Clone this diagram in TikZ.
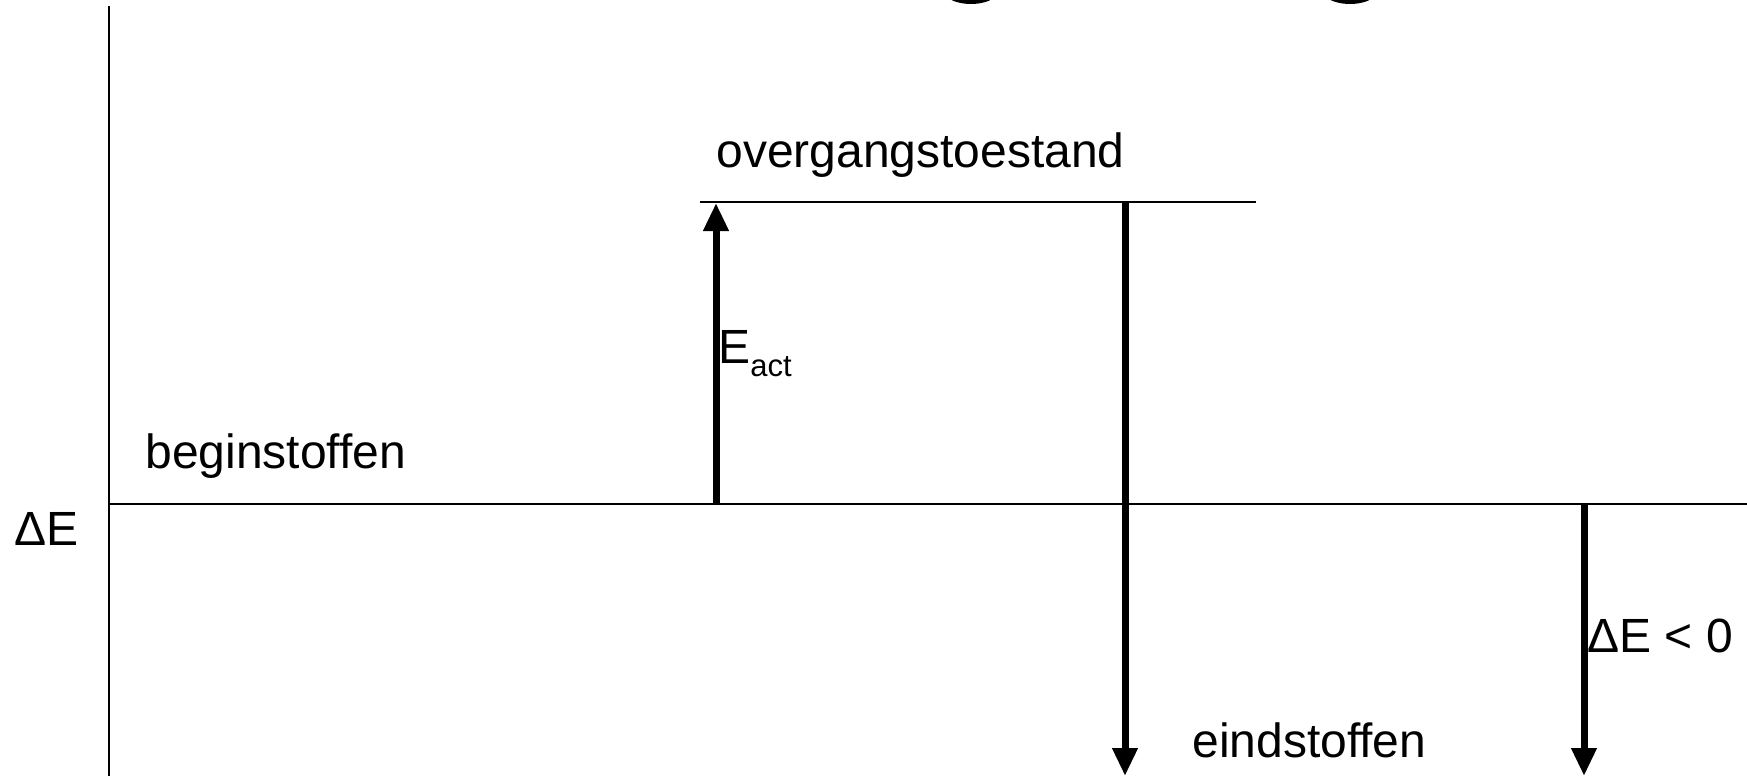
\documentclass[tikz,border=0pt]{standalone}
\usepackage{fontspec}
\setmainfont{Liberation Sans}
\usetikzlibrary{arrows.meta}
\tikzset{
  thinline/.style={line width=1.25pt},
  bigarrow/.style={line width=3.5pt,-{Triangle[width=12pt,length=14pt]}},
  lbl/.style={anchor=base west,inner sep=0pt,font=\fontsize{24}{28}\selectfont},
}
\begin{document}
\begin{tikzpicture}[x=0.5pt,y=-0.5pt]
\useasboundingbox (0,0) rectangle (1747,776);
\fill[white] (0,0) rectangle (1747,776);
% cut-off title fragments
\begin{scope}
\clip (0,0) rectangle (1747,776);
\fill (971,-15) ellipse [x radius=16pt,y radius=9.5pt];
\fill (1350,-15) ellipse [x radius=16pt,y radius=9.5pt];
\end{scope}
% axis and levels
\coordinate (axtop) at (109,6);
\coordinate (axbot) at (109,776);
\coordinate (basel) at (109,504);
\coordinate (baser) at (1747,504);
\coordinate (tsl) at (700,202);
\coordinate (tsr) at (1256,202);
\draw[thinline] (axtop) -- (axbot);
\draw[thinline] (basel) -- (baser);
\draw[thinline] (tsl) -- (tsr);
% arrows
\coordinate (eas) at (716,504);
\coordinate (eae) at (716,203);
\coordinate (mds) at (1125,202);
\coordinate (mde) at (1125,776);
\coordinate (des) at (1584,504);
\coordinate (dee) at (1584,776);
\draw[bigarrow] (eas) -- (eae);
\draw[bigarrow] (mds) -- (mde);
\draw[bigarrow] (des) -- (dee);
% labels
\node[lbl] (ts) at (716,167) {overgangstoestand};
\node[lbl] (begin) at (145,468) {beginstoffen};
\node[lbl] (dE) at (14,545) {ΔE};
\node[lbl] (eact) at (718,363) {E\raisebox{-6.5pt}{\fontsize{15.5}{18}\selectfont act}};
\node[lbl] (eind) at (1192,757) {eindstoffen};
\node[lbl] (dEl) at (1587,652) {ΔE < 0};
\end{tikzpicture}
\end{document}
